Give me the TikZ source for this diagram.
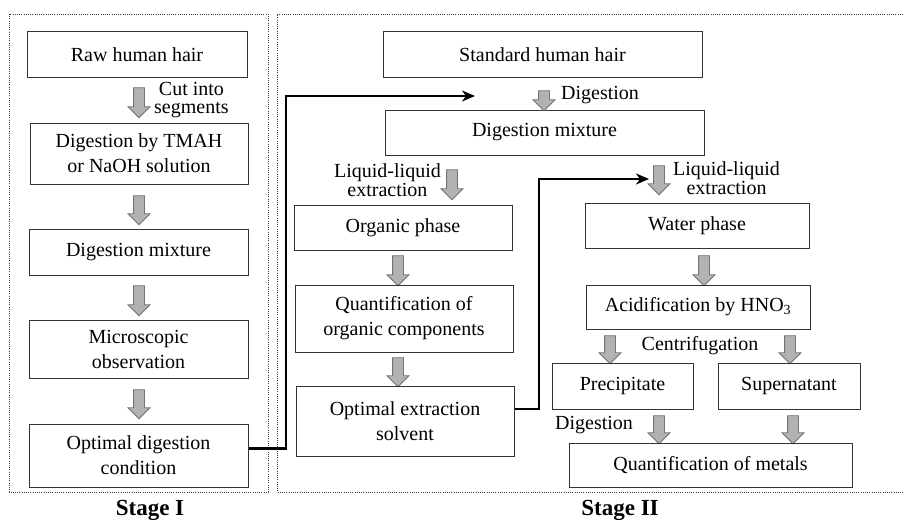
\documentclass[tikz,border=0pt]{standalone}
\usepackage{fontspec}
\setmainfont{Liberation Serif}
\usetikzlibrary{shapes.arrows,arrows.meta}
\begin{document}
\begin{tikzpicture}[x=1pt,y=-1pt,
  box/.style={draw=black!80, line width=1pt, rectangle, align=center, inner sep=0pt,
    font=\fontsize{20}{25}\selectfont},
  lbl/.style={align=center, inner sep=0pt, font=\fontsize{20}{18.5}\selectfont},
  garrow/.style={single arrow, shape border rotate=270, draw=black!55, line width=0.8pt,
    fill=black!30, inner sep=5pt, single arrow head extend=5.5pt, single arrow tip angle=90,
    minimum width=21pt, single arrow head indent=0pt},
  frame/.style={draw=black!75, line width=0.9pt, dash pattern=on 0.9pt off 1.3pt},
  conn/.style={line width=2.6pt, draw=black, -{Stealth[length=13pt,width=11pt,inset=4pt]}},
  stage/.style={font=\fontsize{23}{26}\selectfont\bfseries, inner sep=0pt}]
\useasboundingbox (0,0) rectangle (904,519);
% frames
\draw[frame] (9,14) rectangle (268,492);
\draw[frame] (905,14) -- (277,14) -- (277,492) -- (905,492);
% Stage I
\node[box, minimum width=220, minimum height=45] (I1) at (137,54.5) {Raw human hair};
\node[box, minimum width=218, minimum height=61] (I2) at (139,153.5) {Digestion by TMAH\\or NaOH solution};
\node[box, minimum width=219, minimum height=46] (I3) at (138.5,252) {Digestion mixture};
\node[box, minimum width=219, minimum height=58] (I4) at (138.5,349) {Microscopic\\observation};
\node[box, minimum width=219, minimum height=63] (I5) at (138.5,455.5) {Optimal digestion\\condition};
\node[garrow, minimum height=30] (a1) at (139,100) {};
\node[garrow, minimum height=29] (a2) at (139,207.5) {};
\node[garrow, minimum height=30] (a3) at (139,298) {};
\node[garrow, minimum height=29] (a4) at (139,401.5) {};
\node[lbl, anchor=west] (l1) at (154,100) {Cut into\\segments};
% Stage II left column
\node[box, minimum width=319, minimum height=45] (S1) at (542.5,54.5) {Standard human hair};
\node[box, minimum width=319, minimum height=45] (S2) at (544.5,132.5) {Digestion mixture};
\node[garrow, minimum height=20] (b1) at (544,98) {};
\node[lbl, anchor=west] (l2) at (561,95) {Digestion};
\node[box, minimum width=218, minimum height=45] (O1) at (403,227.5) {Organic phase};
\node[garrow, minimum height=30] (b2) at (452,182) {};
\node[lbl, anchor=east] (l3) at (441,180) {Liquid-liquid\\extraction};
\node[garrow, minimum height=30] (b3) at (398,268) {};
\node[box, minimum width=218, minimum height=67] (O2) at (404,318.5) {Quantification of\\organic components};
\node[garrow, minimum height=29] (b4) at (398,369.5) {};
\node[box, minimum width=218, minimum height=70] (O3) at (405,421) {Optimal extraction\\solvent};
% Stage II right column
\node[garrow, minimum height=29] (b5) at (659,177.5) {};
\node[lbl, anchor=west] (l4) at (673,178) {Liquid-liquid\\extraction};
\node[box, minimum width=224, minimum height=45] (W1) at (697,225.5) {Water phase};
\node[garrow, minimum height=30] (b6) at (704,268) {};
\node[box, minimum width=224, minimum height=44] (A1) at (698,307) {Acidification by HNO\textsubscript{3}};
\node[garrow, minimum height=28] (b7) at (610,347) {};
\node[garrow, minimum height=28] (b8) at (790,347) {};
\node[lbl] (l5) at (700,346) {Centrifugation};
\node[box, minimum width=141, minimum height=46] (P1) at (622.5,386) {Precipitate};
\node[box, minimum width=142, minimum height=46] (P2) at (789,386) {Supernatant};
\node[garrow, minimum height=28] (b9) at (659,427) {};
\node[garrow, minimum height=28] (b10) at (793,427) {};
\node[lbl, anchor=west] (l6) at (555,425) {Digestion};
\node[box, minimum width=283, minimum height=44] (Q1) at (710.5,465) {Quantification of metals};
% connectors
\coordinate (e1) at (475,96);
\coordinate (e2) at (649,179);
\draw[conn] (I5.east) ++(0,-7) -| (286,96) -- (e1);
\draw[conn] (O3.east) ++(0,-12) -| (539,179) -- (e2);
% stage labels
\node[stage] (st1) at (150,510) {Stage I};
\node[stage] (st2) at (620,510) {Stage II};
\end{tikzpicture}
\end{document}
